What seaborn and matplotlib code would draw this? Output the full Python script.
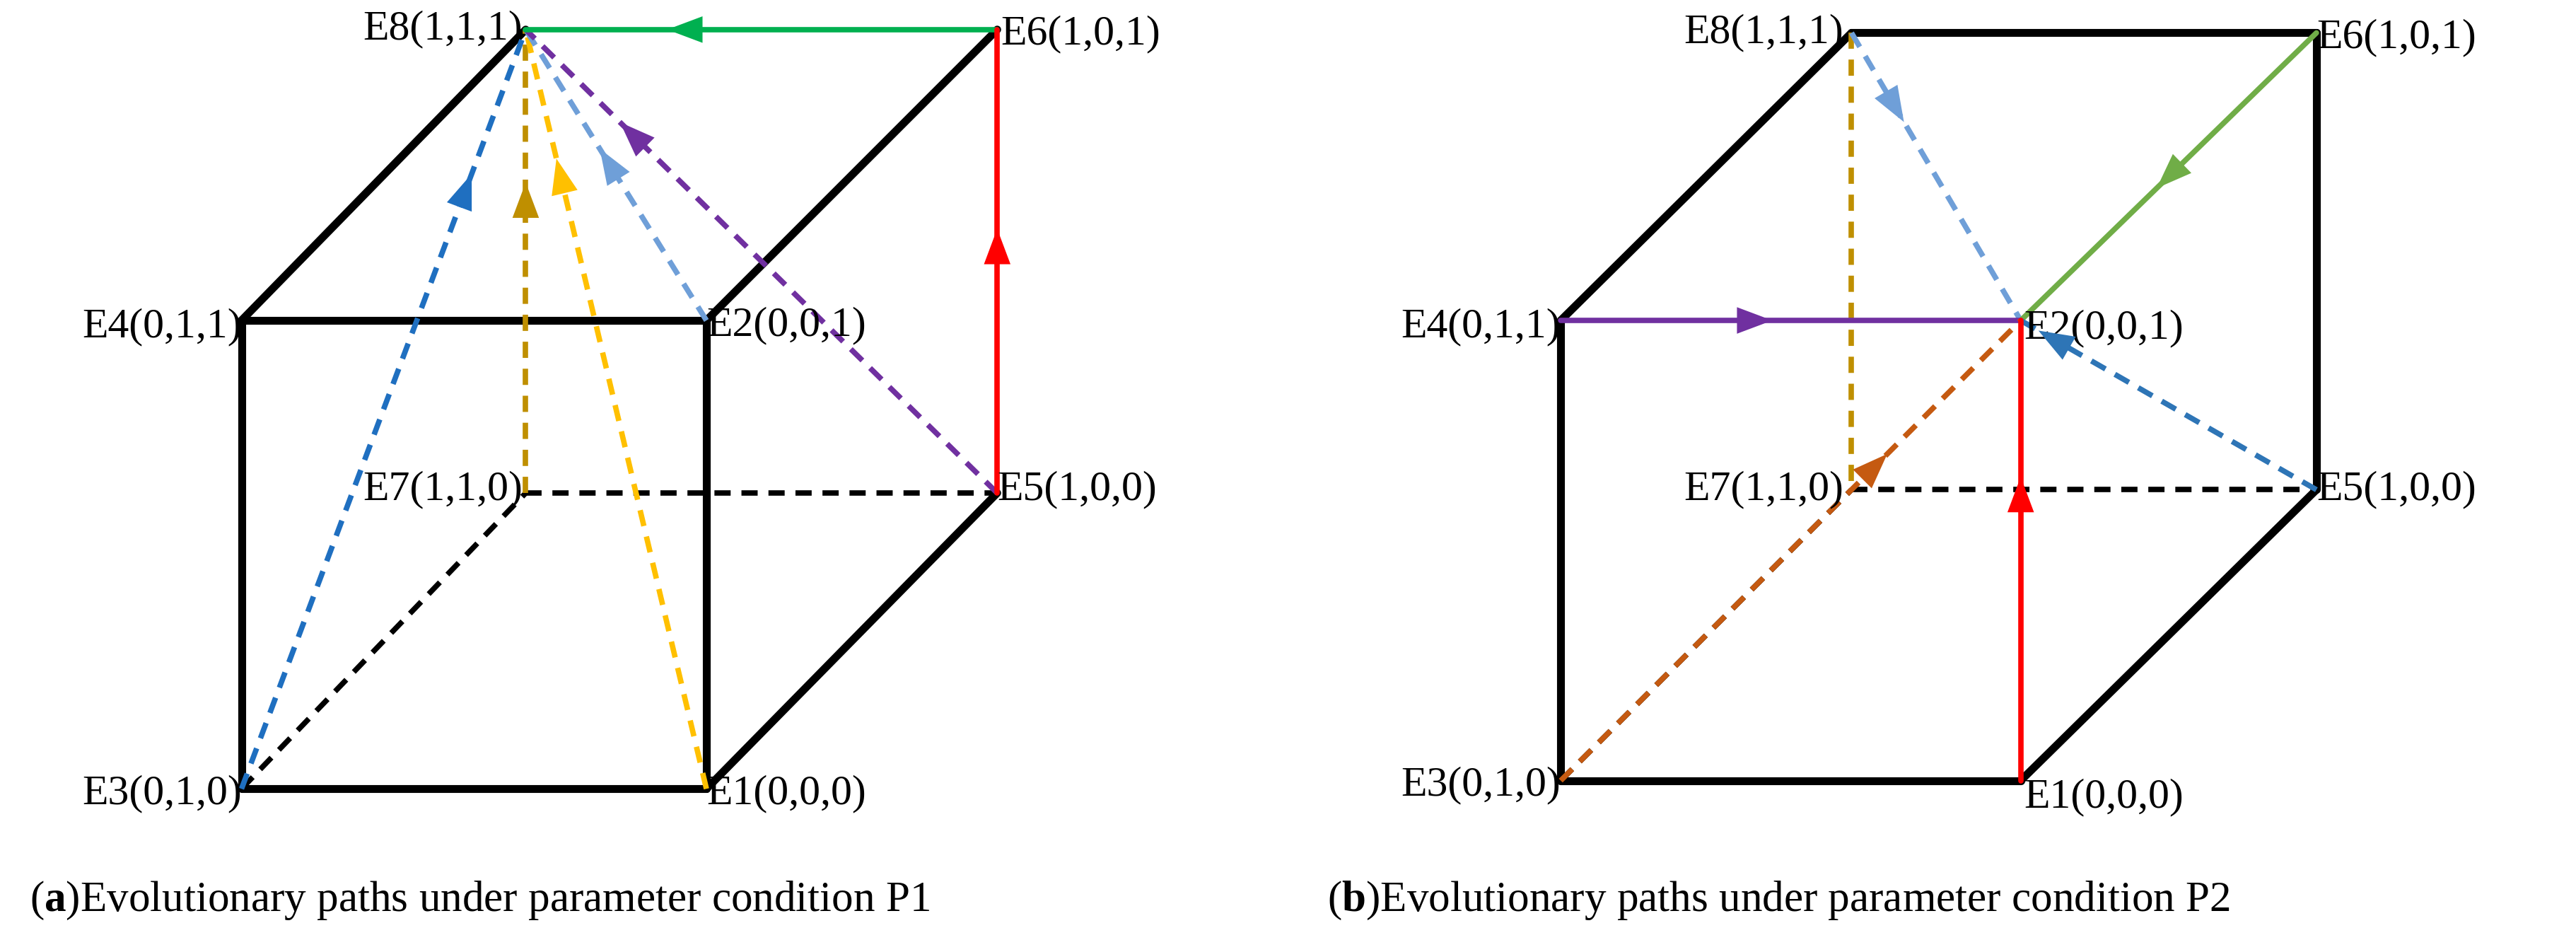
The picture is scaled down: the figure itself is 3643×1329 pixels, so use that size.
import matplotlib
matplotlib.use("Agg")
import matplotlib.pyplot as plt
import seaborn as sns

sns.set_theme(style="white")
plt.rcParams['font.family'] = ['Liberation Serif', 'DejaVu Serif']
plt.rcParams['mathtext.fontset'] = 'custom'
plt.rcParams['mathtext.rm'] = 'Liberation Serif'
plt.rcParams['mathtext.bf'] = 'Liberation Serif:bold'

# node positions (display units) for each cube
nodes_a = {"E8": (320, 18), "E6": (607, 18), "E4": (147, 195), "E2": (430, 195),
           "E7": (320, 300), "E5": (607, 300), "E3": (147, 480), "E1": (430, 480)}
nodes_b = {"E8": (1127, 20), "E6": (1410, 20), "E4": (950, 195), "E2": (1230, 195),
           "E7": (1127, 298), "E5": (1410, 298), "E3": (950, 475), "E1": (1230, 475)}
node_labels = {"E1": "E1(0,0,0)", "E2": "E2(0,0,1)", "E3": "E3(0,1,0)", "E4": "E4(0,1,1)",
               "E5": "E5(1,0,0)", "E6": "E6(1,0,1)", "E7": "E7(1,1,0)", "E8": "E8(1,1,1)"}

# black edges: (from, to, dashed)
edges_a = [("E8", "E4", False), ("E4", "E2", False), ("E2", "E6", False), ("E4", "E3", False),
           ("E3", "E1", False), ("E1", "E2", False), ("E1", "E5", False),
           ("E3", "E7", True), ("E7", "E5", True)]
edges_b = [("E8", "E6", False), ("E8", "E4", False), ("E6", "E5", False), ("E4", "E3", False),
           ("E3", "E1", False), ("E1", "E5", False), ("E3", "E7", True), ("E7", "E5", True)]

# evolutionary paths: (from, to, color, dashed, arrow fraction)
paths_a = [("E3", "E8", "#1f6fc0", True, 0.81), ("E7", "E8", "#bf8f00", True, 0.67),
           ("E1", "E8", "#ffc000", True, 0.83), ("E2", "E8", "#6f9fd8", True, 0.59),
           ("E5", "E8", "#7030a0", True, 0.80), ("E6", "E8", "#00b050", False, 0.70),
           ("E5", "E6", "#ff0000", False, 0.57)]
paths_b = [("E8", "E7", "#bf8f00", True, None), ("E8", "E2", "#6f9fd8", True, 0.31),
           ("E6", "E2", "#70ad47", False, 0.54), ("E4", "E2", "#7030a0", False, 0.46),
           ("E5", "E2", "#2e75b6", True, 0.94), ("E3", "E2", "#c55a11", True, 0.71),
           ("E1", "E2", "#ff0000", False, 0.66)]

# label placement: (ha, dx, dy)
place_a = {"E8": ("right", -2, 0), "E6": ("left", 2, 3), "E4": ("right", 0, 4), "E2": ("left", 0, 3),
           "E7": ("right", -2, -2), "E5": ("left", 0, -2), "E3": ("right", 0, 3), "E1": ("left", 0, 3)}
place_b = {"E8": ("right", -5, 0), "E6": ("left", 0, 3), "E4": ("right", 0, 4), "E2": ("left", 2, 5),
           "E7": ("right", -5, 0), "E5": ("left", 0, 0), "E3": ("right", 0, 3), "E1": ("left", 2, 10)}

captions = [(18, r"($\mathbf{a}$)Evolutionary paths under parameter condition P1"),
            (808, r"($\mathbf{b}$)Evolutionary paths under parameter condition P2")]

fig = plt.figure(figsize=(36.43, 13.29), dpi=100)
ax = fig.add_axes([0, 0, 1, 1])
ax.set_xlim(0, 1568)
ax.set_ylim(572, 0)
ax.axis("off")

def draw(nodes, edges, paths, place):
    for a, b, dashed in edges:
        (x0, y0), (x1, y1) = nodes[a], nodes[b]
        ax.plot([x0, x1], [y0, y1], color="black", lw=8 if not dashed else 5.5,
                ls=(0, (3, 2)) if dashed else "-", solid_capstyle="round", zorder=2)
    for a, b, c, dashed, t in paths:
        (x0, y0), (x1, y1) = nodes[a], nodes[b]
        ax.plot([x0, x1], [y0, y1], color=c, lw=5.5,
                ls=(0, (3, 2)) if dashed else "-", zorder=3)
        if t is not None:
            xm, ym = x0 + t * (x1 - x0), y0 + t * (y1 - y0)
            xs, ys = x0 + (t - 0.06) * (x1 - x0), y0 + (t - 0.06) * (y1 - y0)
            ax.annotate("", xy=(xm, ym), xytext=(xs, ys),
                        arrowprops=dict(arrowstyle="-|>,head_length=1.2,head_width=0.45",
                                        color=c, lw=0, mutation_scale=30,
                                        shrinkA=0, shrinkB=0), zorder=4)
    for k, (x, y) in nodes.items():
        ha, dx, dy = place[k]
        ax.text(x + dx, y + dy, node_labels[k], ha=ha, va="center", fontsize=43, color="black")

draw(nodes_a, edges_a, paths_a, place_a)
draw(nodes_b, edges_b, paths_b, place_b)
for x, s in captions:
    ax.text(x, 548, s, ha="left", va="center", fontsize=44, color="black")

fig.savefig("out.png", dpi=100)
